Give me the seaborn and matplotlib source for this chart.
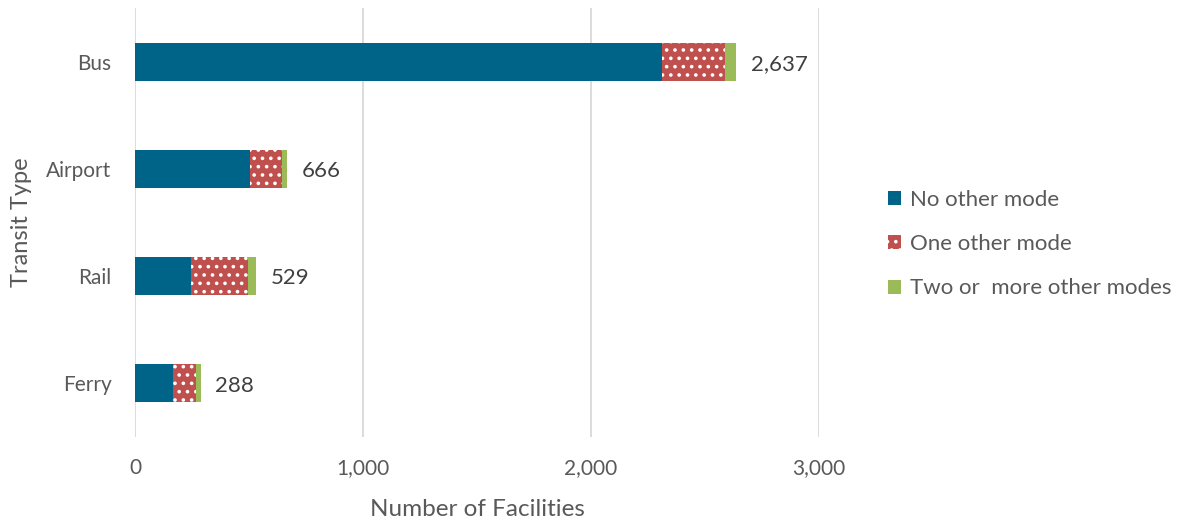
import matplotlib
matplotlib.use("Agg")
import matplotlib.pyplot as plt
import seaborn as sns
import pandas as pd
from matplotlib.patches import Patch

# Facilities by transit type, split by how many other modes they connect to
categories = ["Bus", "Airport", "Rail", "Ferry"]
no_other = [2313, 504, 246, 168]
one_other = [275, 139, 251, 98]
two_plus = [49, 23, 32, 22]
totals = [2637, 666, 529, 288]
series_names = ["No other mode", "One other mode", "Two or  more other modes"]
x_ticks = [0, 1000, 2000, 3000]

BLUE = "#006489"
RED = "#C0504D"
GREEN = "#9BBB59"
TEXT = "#595959"

sns.set_theme(style="white")
plt.rcParams["font.family"] = ["Lato", "DejaVu Sans"]
plt.rcParams["hatch.linewidth"] = 1.4

df = pd.DataFrame({
    "type": categories,
    "no_other": no_other,
    "one_other": one_other,
    "two_plus": two_plus,
    "total": totals,
})
df["cum1"] = df["no_other"]
df["cum2"] = df["no_other"] + df["one_other"]
df["cum3"] = df["cum2"] + df["two_plus"]

fig = plt.figure(figsize=(11.77, 5.20), dpi=100)
ax = fig.add_axes([135 / 1177, 1 - 437 / 520, (819 - 135) / 1177, (437 - 8) / 520])

bw = 0.355
sns.barplot(data=df, x="cum3", y="type", orient="h", color=GREEN,
            width=bw, saturation=1, ax=ax, linewidth=0)
sns.barplot(data=df, x="cum2", y="type", orient="h", color=RED,
            width=bw, saturation=1, ax=ax, hatch="..", edgecolor="white",
            linewidth=0)
sns.barplot(data=df, x="cum1", y="type", orient="h", color=BLUE,
            width=bw, saturation=1, ax=ax, linewidth=0)

for i, t in enumerate(df["total"]):
    ax.text(t + 65, i + 0.02, f"{t:,}", va="center", ha="left",
            fontsize=16, color="#404040")

ax.set_xlim(0, 3000)
ax.set_ylim(3.5, -0.5)
ax.set_xticks(x_ticks)
ax.set_xticklabels([f"{v:,}" for v in x_ticks])
ax.xaxis.grid(True, color="#d9d9d9", linewidth=1.3)
ax.set_axisbelow(True)
for s in ax.spines.values():
    s.set_visible(False)
ax.tick_params(axis="both", length=0, labelsize=15, colors=TEXT)
ax.tick_params(axis="x", pad=15)
ax.tick_params(axis="y", pad=17)
ax.set_xlabel("Number of Facilities", fontsize=17.5, color=TEXT, labelpad=15)
ax.set_ylabel("Transit Type", fontsize=17, color=TEXT, labelpad=10)

handles = [
    Patch(facecolor=BLUE, edgecolor="none", label=series_names[0]),
    Patch(facecolor=RED, edgecolor="white", hatch="..", linewidth=0,
          label=series_names[1]),
    Patch(facecolor=GREEN, edgecolor="none", label=series_names[2]),
]
leg = fig.legend(handles=handles, loc="center left",
                 bbox_to_anchor=(868 / 1177, 1 - 244 / 520), frameon=False,
                 fontsize=16, labelspacing=1.1, handlelength=0.6,
                 handleheight=0.6, handletextpad=0.4)
for txt in leg.get_texts():
    txt.set_color(TEXT)

fig.savefig("out.png", dpi=100)
